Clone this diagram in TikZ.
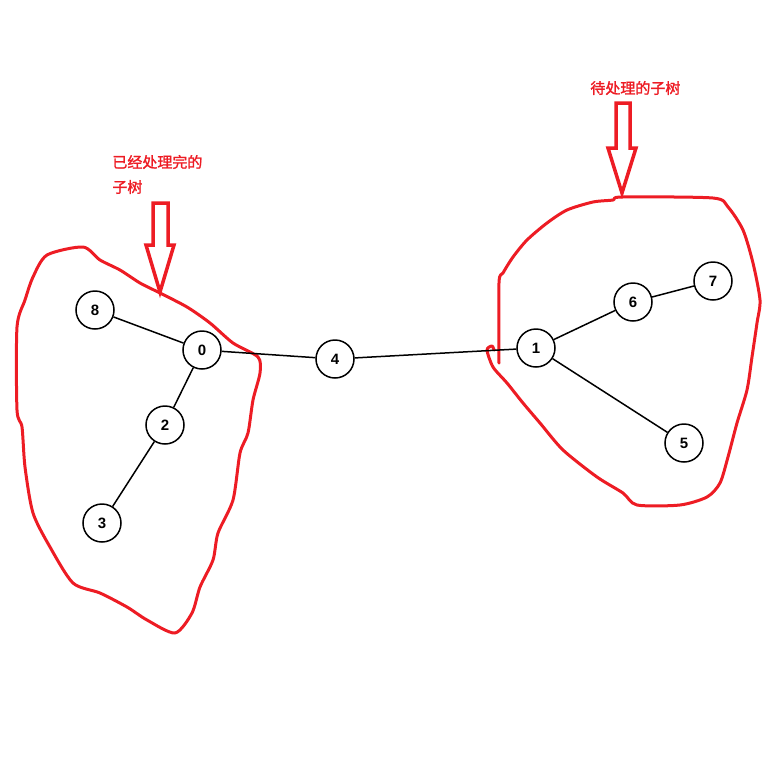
\documentclass[tikz,border=0pt]{standalone}
\usepackage{fontspec}
\setmainfont{Liberation Sans}
\newfontfamily\cjk[FakeBold=1.6]{Noto Sans CJK SC}
\usepackage{xcolor}
\usetikzlibrary{positioning}
\definecolor{penred}{HTML}{ED1C24}
\tikzset{
  vert/.style={
    circle, draw=black, line width=0.75pt, fill=white,
    minimum size=19pt, inner sep=0pt,
    font=\fontsize{7.5}{8}\selectfont\bfseries
  },
  link/.style={line width=0.75pt, black},
  outline/.style={
    draw=penred, line width=1.5pt, line join=round, line cap=round
  },
  hollow/.style={draw=penred, line width=1.75pt, line join=miter},
  note/.style={
    anchor=west, inner sep=0pt, text=penred,
    font=\cjk\fontsize{7.5}{8}\selectfont
  }
}
\begin{document}
\begin{tikzpicture}[x=0.5pt, y=-0.5pt]
  \useasboundingbox (0,0) rectangle (784,784);

  % handmade outline of the finished subtree
  \draw[outline] plot[smooth cycle, tension=0.45] coordinates {
    (160,293) (187,307) (210,323) (233,343) (258,357) (260,373)
    (253,400) (248,433) (240,453) (233,500) (218,533) (213,560)
    (200,587) (192,613) (175,633) (147,620) (127,607) (100,593)
    (73,583) (50,547) (33,513) (25,467) (22,427) (17,410)
    (17,327) (25,300) (33,277) (47,255) (83,247) (100,260)
    (120,270) (140,283)};

  % handmade outline of the pending subtree
  \draw[outline] plot[smooth, tension=0.45] coordinates {
    (499,363) (499,283) (503,273) (513,257) (527,240) (547,223)
    (567,210) (593,202) (613,200) (622,197) (713,198) (728,207)
    (743,230) (753,263) (760,300) (757,323) (752,357) (747,390)
    (737,423) (728,457) (720,483) (707,497) (680,505) (637,505)
    (623,493) (597,477) (563,450) (540,423) (523,403) (507,383)
    (493,367) (487,350) (492,346) (494,350)};

  % hollow arrows
  \draw[hollow] (153,203) -- (168,203) -- (168,245) -- (174,245)
    -- (160,292) -- (146,245) -- (153,245) -- cycle;
  \draw[hollow] (616,103) -- (630,103) -- (630,148) -- (636,148)
    -- (622,193) -- (608,148) -- (616,148) -- cycle;

  \node[note] (done1) at (112,162) {已经处理完的};
  \node[note] (done2) at (112,187) {子树};
  \node[note] (todo) at (590,88) {待处理的子树};

  % tree
  \node[vert] (n8) at (95,310) {8};
  \node[vert] (n0) at (202,350) {0};
  \node[vert] (n2) at (165,425) {2};
  \node[vert] (n3) at (102,523) {3};
  \node[vert] (n4) at (335,359) {4};
  \node[vert] (n1) at (536,348) {1};
  \node[vert] (n6) at (633,302) {6};
  \node[vert] (n7) at (713,281) {7};
  \node[vert] (n5) at (684,443) {5};
  \foreach \a/\b in {n8/n0,n0/n2,n2/n3,n0/n4,n4/n1,n1/n6,n6/n7,n1/n5}{%
    \draw[link] (\a) -- (\b);}
\end{tikzpicture}
\end{document}
